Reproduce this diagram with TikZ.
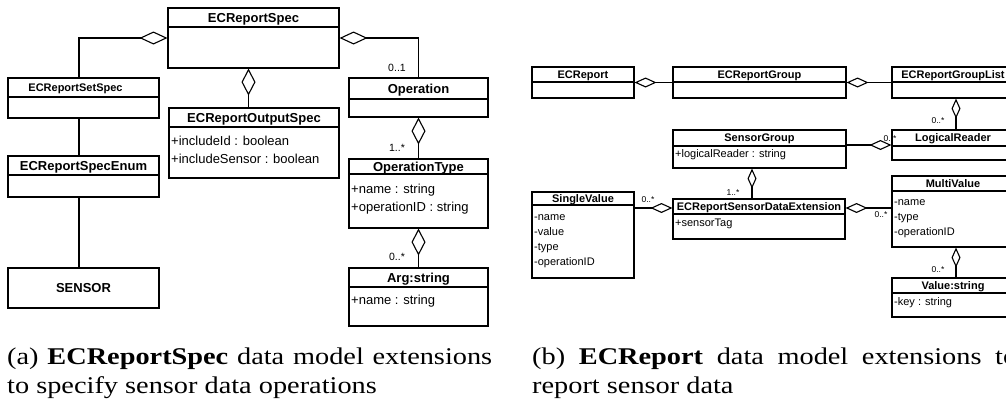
\documentclass[tikz,border=0pt]{standalone}
\usepackage{fontspec}
\newfontfamily\umlfont{Liberation Sans}
\newfontfamily\capfont[FakeStretch=1.18]{Liberation Serif}
\usetikzlibrary{arrows.meta}

\tikzset{
  clsbox/.style={draw=black, line width=1.1pt, inner sep=0pt},
  clsline/.style={draw=black, line width=1.1pt},
  lp/.style={font=\umlfont\fontsize{13}{18}\selectfont, title cap/.style={text height=9.4pt}},
  rp/.style={font=\umlfont\fontsize{11}{15}\selectfont, title cap/.style={text height=7.9pt}},
  title cap/.style={},
  cls title extra/.style={},
  attr drop/.store in=\attrdrop, attr drop=5.5,
  clstitle/.style={inner sep=0pt, text depth=0pt},
  clsattr/.style={anchor=north west, inner xsep=2pt, inner ysep=0pt, align=left, yshift=-\attrdrop pt},
  conn/.style={draw=black, line width=1.1pt},
  aggL/.style={conn, -{Diamond[open, length=28pt, width=13pt]}},
  aggLv/.style={conn, -{Diamond[open, length=27pt, width=14pt]}},
  aggR/.style={conn, -{Diamond[open, length=22pt, width=10pt]}},
  aggRv/.style={conn, -{Diamond[open, length=20pt, width=9pt]}},
  multL/.style={anchor=base, inner sep=0pt, font=\umlfont\fontsize{10.5}{12}\selectfont},
  multR/.style={anchor=base, inner sep=0pt, font=\umlfont\fontsize{8.5}{10}\selectfont},
  captxt/.style={anchor=base west, inner sep=0pt, font=\capfont\fontsize{24}{29}\selectfont},
}

% \umlclass[style]{name}{left}{top}{right}{bottom}{separator}{title}{attributes}
\newcommand\umlclass[9][]{%
  \node[clsbox, minimum width={(#5-#3)*1pt}, minimum height={(#6-#4)*1pt}] (#2) at ({(#3+#5)/2},{(#4+#6)/2}) {};
  \draw[clsline] (#3,#7) -- (#5,#7);
  \node[clstitle, #1, title cap, cls title extra] at ({(#3+#5)/2},{(#4+#7)/2}) {\bfseries #8};
  \node[#1, clsattr] at (#3,#7) {\strut #9};
}

\begin{document}
\begin{tikzpicture}[x=1pt, y=-1pt]
\useasboundingbox (0,0) rectangle (1006,408);
\clip (0,0) rectangle (1006,408);

% ---- ECReportSpec model ----
\umlclass[lp]{spec}{168}{8}{339}{68}{27}{ECReportSpec}{}
\umlclass[lp, cls title extra/.style={font=\umlfont\bfseries\fontsize{11}{13}\selectfont, text height=7.9pt, xshift=-8pt}]{setspec}{8}{78}{159}{118}{97}{ECReportSetSpec}{}
\umlclass[lp]{enum}{8}{156}{159}{197}{175}{ECReportSpecEnum}{}
\node[clsbox, lp, minimum width=151pt, minimum height=40pt] (sensor) at (83.5,288) {\bfseries SENSOR};
\umlclass[lp, attr drop=5.4]{outspec}{169}{108}{339}{178}{127}{ECReportOutputSpec}{+includeId : boolean\\+includeSensor : boolean}
\umlclass[lp]{operation}{349}{78}{488}{117}{99}{Operation}{}
\umlclass[lp, attr drop=7]{optype}{349}{159}{488}{228}{174}{OperationType}{+name : string\\+operationID : string}
\umlclass[lp, attr drop=4.6]{arg}{349}{268}{488}{326}{287}{Arg:string}{+name : string}

\draw[aggL] ([xshift=-4.5pt]setspec.north) |- (spec.west);
\draw[conn] ([xshift=-4.5pt]setspec.south) -- ([xshift=-4.5pt]enum.north);
\draw[conn] ([xshift=-4.5pt]enum.south) -- ([xshift=-4.5pt]sensor.north);
\draw[aggLv] ([xshift=-5.5pt]outspec.north) -- ([xshift=-5.5pt]outspec.north |- spec.south);
\draw[aggL] (operation.north) |- (spec.east);
\draw[aggLv] (optype.north) -- (operation.south);
\draw[aggLv] (arg.north) -- (optype.south);

\node[multL] (m1) at (397,71) {0..1};
\node[multL] (m2) at (397,151) {1..*};
\node[multL] (m3) at (397,260) {0..*};

% ---- ECReport model ----
\umlclass[rp]{ecreport}{532}{67}{634}{98}{82}{ECReport}{}
\umlclass[rp]{group}{673}{67}{846}{98}{82}{ECReportGroup}{}
\umlclass[rp]{grouplist}{892}{67}{1014}{98}{82}{ECReportGroupList}{}
\umlclass[rp]{logical}{892}{130}{1014}{160}{146}{LogicalReader}{}
\umlclass[rp, attr drop=0.8]{sgroup}{673}{130}{846}{168}{146}{SensorGroup}{+logicalReader : string}
\umlclass[rp, attr drop=1.5]{ext}{673}{199}{845}{239}{214}{ECReportSensorDataExtension}{+sensorTag}
\umlclass[rp, attr drop=4.5]{single}{532}{192}{634}{278}{205}{SingleValue}{-name\\-value\\-type\\-operationID}
\umlclass[rp, attr drop=3.5]{multi}{892}{176}{1014}{247}{191}{MultiValue}{-name\\-type\\-operationID}
\umlclass[rp, attr drop=1.5]{valstr}{892}{278}{1014}{317}{293}{Value:string}{-key : string}

\draw[aggR] (group.west) -- (ecreport.east);
\draw[aggR] (grouplist.west) -- (group.east);
\draw[aggRv] ([xshift=3pt]logical.north) -- ([xshift=3pt]grouplist.south);
\draw[aggR] (sgroup.east |- logical.west) -- (logical.west);
\draw[aggRv] ([xshift=-7pt]ext.north) -- ([xshift=-7pt]ext.north |- sgroup.south);
\path ([yshift=11pt]ext.west) coordinate (extw) ([yshift=11pt]ext.east) coordinate (exte);
\draw[aggR] (single.east |- extw) -- (extw);
\draw[aggR] (multi.west |- exte) -- (exte);
\draw[aggRv] ([xshift=3pt]valstr.north) -- ([xshift=3pt]multi.south);

\node[multR] (r1) at (938,123) {0..*};
\node[multR] (r2) at (890,141) {0..*};
\node[multR] (r3) at (733,195) {1..*};
\node[multR] (r4) at (648,202) {0..*};
\node[multR] (r5) at (881,217) {0..*};
\node[multR] (r6) at (938,272) {0..*};

% ---- captions ----
\node[captxt] (capa1) at (7,364) {\makebox[485pt][s]{(a) \textbf{ECReportSpec} data model extensions}};
\node[captxt] (capa2) at (7,393) {to specify sensor data operations};
\node[captxt] (capb1) at (532,364) {\makebox[485pt][s]{(b) \textbf{ECReport} data model extensions to}};
\node[captxt] (capb2) at (532,393) {report sensor data};
\end{tikzpicture}
\end{document}
